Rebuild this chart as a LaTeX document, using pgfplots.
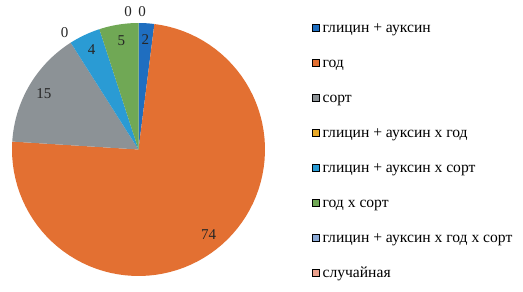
\documentclass[border=0pt]{standalone}
\usepackage{fontspec}
\setmainfont{Liberation Serif}
\usepackage{pgfplots}
\usepackage{pgfplotstable}
\pgfplotsset{compat=1.18}
\definecolor{c0}{RGB}{31,110,192}
\definecolor{c1}{RGB}{227,112,50}
\definecolor{c2}{RGB}{140,146,150}
\definecolor{c3}{RGB}{233,170,40}
\definecolor{c4}{RGB}{42,155,212}
\definecolor{c5}{RGB}{112,168,85}
\definecolor{c6}{RGB}{140,170,215}
\definecolor{c7}{RGB}{235,160,140}
\newcommand\lblfont{\fontsize{15}{18}\selectfont}
% value, label radius, label x nudge
\pgfplotstableread{
v  r     dx
2  0.87  0
74 0.87  0
15 0.87  0
0  1.09  0
4  0.87  0
5  0.87  0
0  1.09  -0.083
0  1.09  0.028
}\piedata
\begin{document}
\begin{tikzpicture}
\path[use as bounding box] (0,0) rectangle (523pt,292pt);
\begin{axis}[
  at={(12pt,16pt)}, anchor=south west,
  scale only axis, width=253pt, height=253pt,
  xmin=-1, xmax=1, ymin=-1, ymax=1,
  hide axis, clip=false,
  legend style={draw=none, fill=none, inner sep=0pt,
    font=\fontsize{15.6}{18}\selectfont,
    row sep=17.5pt,
    nodes={text height=12pt, text depth=3.5pt, inner sep=1pt},
    at={(axis description cs:1.1858,1.0160)}, anchor=north west},
  legend cell align=left,
  legend image code/.code={\fill[#1] (0pt,-3.5pt) rectangle (7pt,3.5pt); \path (9pt,0pt);},
]
\pgfmathsetmacro\cum{0}
\pgfplotsforeachungrouped \i in {0,...,7}{%
  \pgfplotstablegetelem{\i}{v}\of\piedata
  \let\val\pgfplotsretval
  \pgfplotstablegetelem{\i}{r}\of\piedata
  \let\lr\pgfplotsretval
  \pgfplotstablegetelem{\i}{dx}\of\piedata
  \let\ldx\pgfplotsretval
  \pgfmathsetmacro\aS{90-3.6*\cum}%
  \pgfmathsetmacro\aE{90-3.6*(\cum+\val)}%
  \pgfmathsetmacro\am{(\aS+\aE)/2}%
  \pgfmathsetmacro\cum{\cum+\val}%
  \pgfmathsetmacro\lx{\lr*cos(\am)+\ldx}%
  \pgfmathsetmacro\ly{\lr*sin(\am)}%
  \ifdim\val pt>0pt
    \edef\temp{\noexpand\addplot[fill=c\i, draw=none, domain=\aE:\aS, samples=80, forget plot] ({cos(x)},{sin(x)}) -- (axis cs:0,0) -- cycle;}%
    \temp
  \fi
  \edef\temp{\noexpand\node[font=\noexpand\lblfont, text=black!85, inner sep=0pt] at (axis cs:\lx,\ly) {\val};}%
  \temp
}
\addlegendimage{fill=c0}\addlegendentry{глицин + ауксин}
\addlegendimage{fill=c1}\addlegendentry{год}
\addlegendimage{fill=c2}\addlegendentry{сорт}
\addlegendimage{fill=c3}\addlegendentry{глицин + ауксин х год}
\addlegendimage{fill=c4}\addlegendentry{глицин + ауксин х сорт}
\addlegendimage{fill=c5}\addlegendentry{год х сорт}
\addlegendimage{fill=c6}\addlegendentry{глицин + ауксин х год х сорт}
\addlegendimage{fill=c7}\addlegendentry{случайная}
\end{axis}
\end{tikzpicture}
\end{document}
